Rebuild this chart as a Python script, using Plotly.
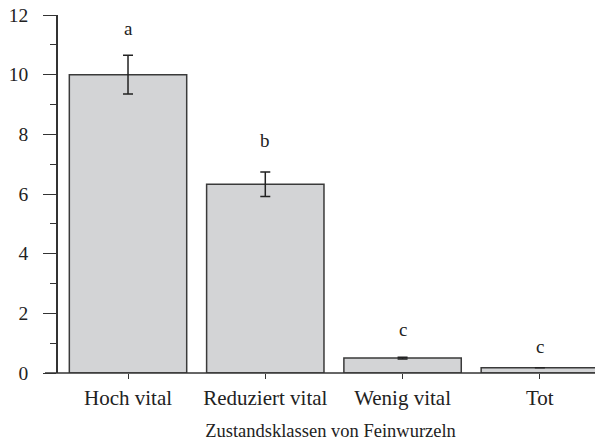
import plotly.graph_objects as go

categories = ["Hoch vital", "Reduziert vital", "Wenig vital", "Tot"]
means = [10.0, 6.33, 0.5, 0.18]
errors = [0.65, 0.41, 0.03, 0.0]
letters = ["a", "b", "c", "c"]
letter_y = [11.55, 7.8, 1.45, 0.9]
y_ticks = [0, 2, 4, 6, 8, 10, 12]

FONT = "Liberation Serif, Times New Roman, serif"
fig = go.Figure()
fig.add_trace(go.Bar(
    x=categories, y=means,
    marker=dict(color="#d3d4d6", line=dict(color="#3a3a3a", width=1.5)),
    error_y=dict(type="data", array=errors, visible=True, color="#222222", thickness=1.5, width=5),
    width=0.855,
))
for c, l, ly in zip(categories, letters, letter_y):
    fig.add_annotation(x=c, y=ly, text=l, showarrow=False, font=dict(family=FONT, size=19, color="#222"))

# extend x axis line to the left of y axis
fig.add_shape(type="line", xref="paper", yref="paper", x0=-13/545, x1=1, y0=0, y1=0,
              line=dict(color="#333", width=1.5))

fig.update_layout(
    width=603, height=446,
    margin=dict(l=50, r=8, t=7, b=81),
    plot_bgcolor="white", paper_bgcolor="white",
    showlegend=False,
    font=dict(family=FONT, size=19, color="#222"),
    xaxis=dict(
        range=[-0.51, 3.46], showline=False, ticks="outside", ticklen=5, tickwidth=1.2,
        tickcolor="#333", showgrid=False, zeroline=False, automargin=False,
        title=dict(text="Zustandsklassen von Feinwurzeln", font=dict(family=FONT, size=18.5), standoff=14),
        tickfont=dict(family=FONT, size=21), ticklabelstandoff=1,
    ),
    yaxis=dict(
        range=[0, 12], tickvals=y_ticks, showline=True, linecolor="#333", linewidth=1.5,
        ticks="outside", ticklen=13, tickwidth=1.2, tickcolor="#333", automargin=False,
        minor=dict(dtick=1, ticks="outside", ticklen=6, tickwidth=1.2, tickcolor="#333"),
        showgrid=False, zeroline=False, ticklabelstandoff=11, ticklabeloverflow="allow",
        tickfont=dict(family=FONT, size=19.5),
    ),
)
fig.write_html("out.html")
